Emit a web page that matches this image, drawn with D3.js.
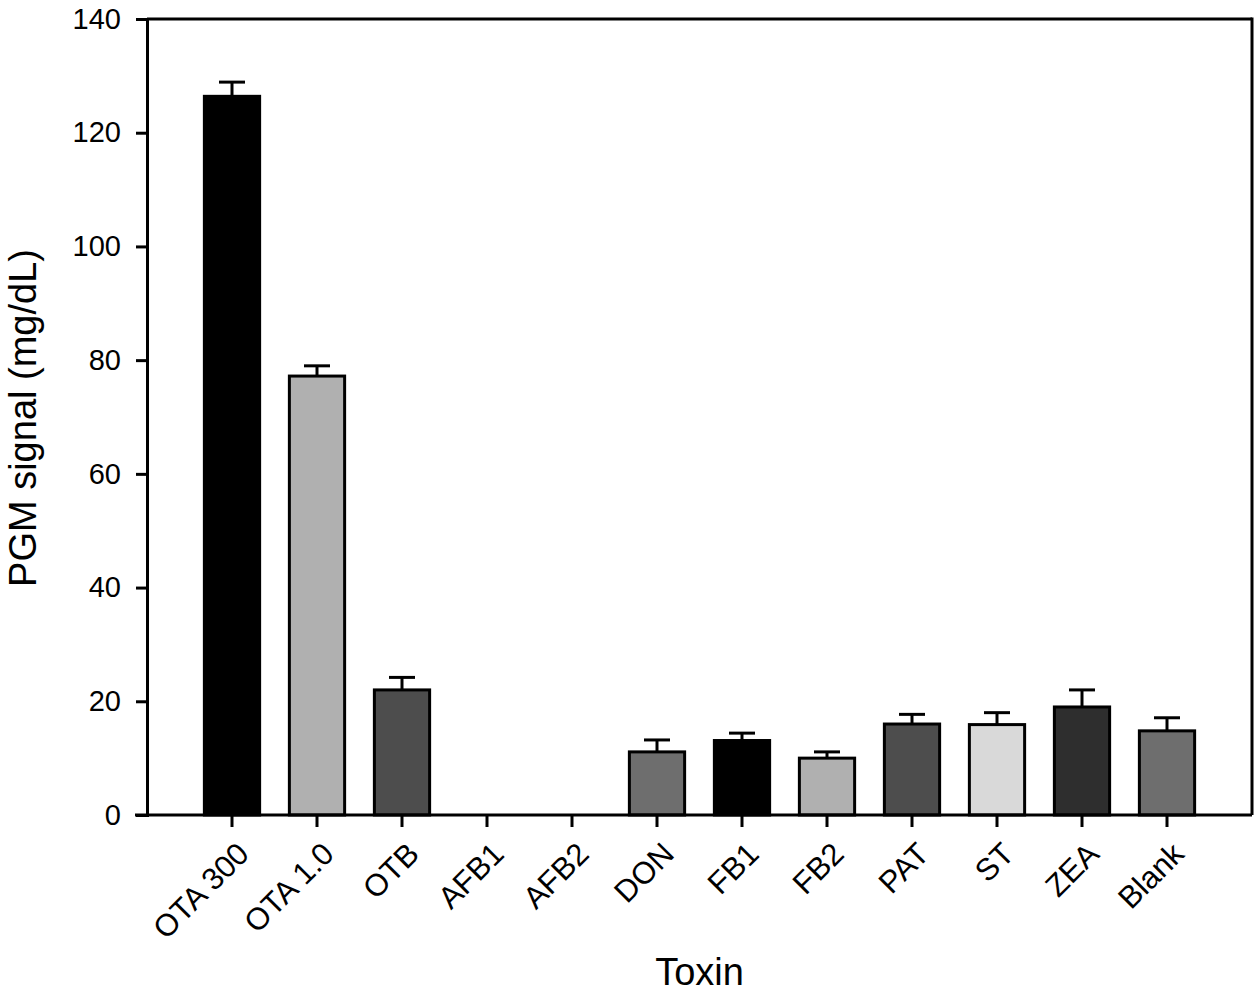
<!DOCTYPE html>
<html><head><meta charset="utf-8">
<script src="https://cdn.jsdelivr.net/npm/d3@7"></script>
<style>body{margin:0;background:#fff}svg{display:block}</style>
</head><body>
<svg id="chart" width="1260" height="993"></svg>
<script>
const categories = ["OTA 300","OTA 1.0","OTB","AFB1","AFB2","DON","FB1","FB2","PAT","ST","ZEA","Blank"];
const values =     [126.4, 77.2, 22.0, 0, 0, 11.1, 13.1, 10.0, 16.0, 15.9, 19.0, 14.8];
const errors =     [2.5, 1.8, 2.2, 0, 0, 2.1, 1.3, 1.1, 1.7, 2.1, 3.0, 2.3];
const fills =      ["#000000","#b0b0b0","#4d4d4d","#808080","#808080","#6e6e6e","#000000","#b0b0b0","#4d4d4d","#d9d9d9","#2e2e2e","#6e6e6e"];
const yTicks = [0,20,40,60,80,100,120,140];

const svg = d3.select("#chart");
const L = 147, R = 1252, T = 19, B = 815;
const x = d3.scaleBand().domain(categories).range([L, R]).paddingInner(0.35).paddingOuter(0.675);
const y = d3.scaleLinear().domain([0,140]).range([B, T]);
const font = "Arial, 'Liberation Sans', sans-serif";

// bars
const data = categories.map((c,i)=>({c, v: values[i], e: errors[i], f: fills[i]}));
const shown = data.filter(d=>d.v>0);
svg.append("g").selectAll("rect").data(shown).join("rect")
  .attr("x", d=>x(d.c)).attr("width", x.bandwidth())
  .attr("y", d=>y(d.v)).attr("height", d=>y(0)-y(d.v))
  .attr("fill", d=>d.f).attr("stroke","#000").attr("stroke-width",3);

// error bars (upper only)
const eg = svg.append("g").attr("stroke","#000").attr("stroke-width",3);
shown.forEach(d=>{
  const cx = x(d.c)+x.bandwidth()/2;
  eg.append("line").attr("x1",cx).attr("x2",cx).attr("y1",y(d.v)).attr("y2",y(d.v+d.e));
  eg.append("line").attr("x1",cx-13).attr("x2",cx+13).attr("y1",y(d.v+d.e)).attr("y2",y(d.v+d.e));
});

// frame top/right
svg.append("line").attr("x1",L).attr("x2",R).attr("y1",T).attr("y2",T).attr("stroke","#000").attr("stroke-width",3);
svg.append("line").attr("x1",R).attr("x2",R).attr("y1",T-1.5).attr("y2",B).attr("stroke","#000").attr("stroke-width",3);

// y axis
const ya = svg.append("g").attr("transform",`translate(${L},0)`)
  .call(d3.axisLeft(y).tickValues(yTicks).tickSize(11).tickPadding(15).tickFormat(d3.format("d")));
ya.select(".domain").attr("stroke-width",3);
ya.selectAll(".tick line").attr("stroke-width",3);
ya.selectAll("text").attr("font-size",29).attr("font-family",font).attr("fill","#000");

// x axis
const xa = svg.append("g").attr("transform",`translate(0,${B})`)
  .call(d3.axisBottom(x).tickSize(12).tickSizeOuter(0));
xa.select(".domain").attr("stroke-width",3).attr("d",`M${L-12},0H${R}`);
xa.selectAll(".tick line").attr("stroke-width",3);
xa.selectAll("text").attr("font-size",31).attr("font-family",font).attr("fill","#000")
  .attr("text-anchor","end").attr("dy","0.72em").attr("y",0)
  .attr("transform","translate(3,25) rotate(-45)");

// axis titles
svg.append("text").attr("x",(L+R)/2).attr("y",985).attr("text-anchor","middle")
  .attr("font-size",38).attr("font-family",font).text("Toxin");
svg.append("text").attr("transform",`translate(36,418) rotate(-90)`).attr("text-anchor","middle")
  .attr("font-size",38).attr("font-family",font).text("PGM signal (mg/dL)");
</script>
</body></html>
